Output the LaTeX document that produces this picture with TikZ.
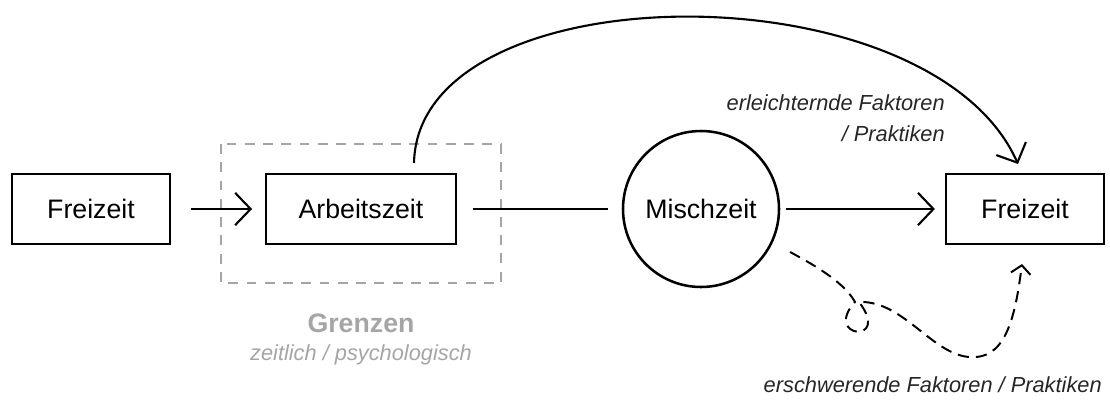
\documentclass[tikz,border=0pt]{standalone}
\usepackage{fontspec}
\setmainfont{Liberation Sans}
\usetikzlibrary{arrows.meta}
\definecolor{grenzgrau}{RGB}{165,165,165}
\begin{document}
\begin{tikzpicture}[x=0.025cm,y=-0.025cm,
    box/.style={draw,line width=1.8pt,minimum width=#1*0.025cm,minimum height=70*0.025cm,
      inner sep=0pt,font=\fontsize{19}{23}\selectfont},
    conn/.style={line width=1.5pt},
    tip/.style={-{Straight Barb[length=11pt,width=23pt,line width=1.5pt]}},
    note/.style={font=\fontsize{15.5}{22}\selectfont\itshape,text=black!85,inner sep=0pt}]
        \useasboundingbox (0,0) rectangle (1110,402);
        \node[box=158] (F1) at (91,209) {Freizeit};
        \node[box=190] (A) at (361,209) {Arbeitszeit};
        \node[draw,circle,line width=1.8pt,minimum size=156*0.025cm,inner sep=0pt,
          font=\fontsize{19}{23}\selectfont] (M) at (701,209) {Mischzeit};
        \node[box=158] (F2) at (1025,209) {Freizeit};
        \draw[grenzgrau,line width=1.5pt,dash pattern=on 7pt off 6pt] (221,144) rectangle (501,283);
        \node[text=grenzgrau,font=\fontsize{19}{23}\selectfont\bfseries] (G) at (361,323) {Grenzen};
        \node[note,text=grenzgrau] (Z) at (361,355) {zeitlich / psychologisch};
        % straight connectors
        \draw[conn,tip,shorten <=14pt,shorten >=9pt] (F1) -- (A);
        \draw[conn,shorten <=11pt,shorten >=10pt] (A) -- (M);
        \draw[conn,tip,shorten <=4pt,shorten >=7pt] (M) -- (F2);
        % big curved arrow
        \coordinate (S) at (414,163);
        \coordinate (E) at (1018,164);
        \draw[conn,tip] (S) .. controls (418,-30) and (930,-34) .. (E);
        \node[note,align=right,anchor=east] (L1) at (945,118) {erleichternde Faktoren\\/ Praktiken};
        % dashed arrow with loop
        \coordinate (D0) at (790,252);
        \coordinate (D1) at (855,302);
        \coordinate (D2) at (859,302);
        \coordinate (D3) at (975,357);
        \coordinate (D4) at (1022,264);
        \draw[line width=1.4pt,dash pattern=on 8pt off 5pt,
          -{Straight Barb[length=6pt,width=14pt,line width=1.4pt]}]
          (D0) .. controls (820,268) and (845,284) .. (D1)
          .. controls (822,338) and (892,345) .. (D2)
          .. controls (905,300) and (935,360) .. (D3)
          .. controls (1008,356) and (1016,310) .. (D4);
        \node[note,anchor=east] (L2) at (1102,385) {erschwerende Faktoren / Praktiken};
\end{tikzpicture}
\end{document}
